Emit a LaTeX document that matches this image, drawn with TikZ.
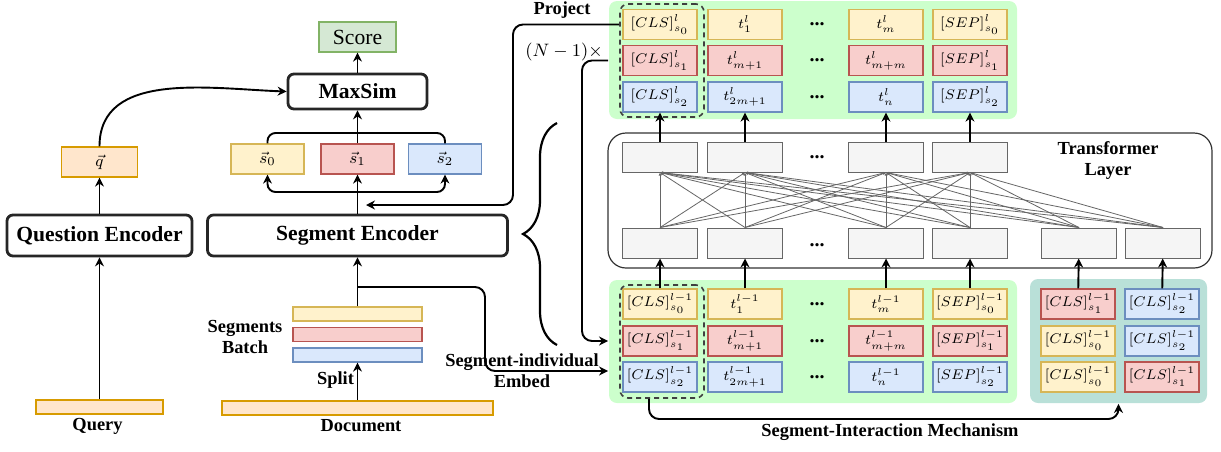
\documentclass[tikz,border=0pt]{standalone}
\usepackage[no-math]{fontspec}
\setmainfont{Liberation Serif}
\usetikzlibrary{arrows.meta,decorations.pathreplacing}

\definecolor{ylwF}{HTML}{FFF2CC}
\definecolor{ylwD}{HTML}{D6B656}
\definecolor{redF}{HTML}{F8CECC}
\definecolor{redD}{HTML}{B85450}
\definecolor{bluF}{HTML}{DAE8FC}
\definecolor{bluD}{HTML}{6C8EBF}
\definecolor{orgF}{HTML}{FFE6CC}
\definecolor{orgD}{HTML}{D79B00}
\definecolor{grnF}{HTML}{D5E8D4}
\definecolor{grnD}{HTML}{82B366}
\definecolor{panelG}{HTML}{CCFFCC}
\definecolor{panelT}{HTML}{B9E0D8}
\definecolor{cellF}{HTML}{F5F5F5}
\definecolor{cellD}{HTML}{666666}

\tikzset{
  enc/.style={draw=black!85, line width=1.4pt, rounded corners=3pt, minimum height=20.5pt, inner sep=0pt, font=\fontsize{10.8}{13}\selectfont\bfseries},
  lab/.style={font=\fontsize{9.2}{10.5}\selectfont\bfseries, inner sep=0pt, align=center},
  tok/.style={minimum width=37pt, minimum height=15pt, inner sep=0pt, line width=0.6pt, font=\fontsize{7.4}{8}\selectfont},
  ylw/.style={tok, fill=ylwF, draw=ylwD},
  rd/.style={tok, fill=redF, draw=redD},
  bl/.style={tok, fill=bluF, draw=bluD},
  bar/.style={minimum height=7pt, inner sep=0pt, line width=0.6pt},
  cell/.style={fill=cellF, draw=cellD, line width=0.5pt, minimum width=37.5pt, minimum height=15pt, inner sep=0pt},
  dots/.style={font=\fontsize{10}{12}\selectfont\bfseries, inner sep=0pt},
  panel/.style={rounded corners=4pt, inner sep=0pt},
  clsgrp/.style={draw=black!75, dash pattern=on 2.5pt off 2pt, line width=0.8pt, rounded corners=4pt, minimum width=42pt, minimum height=56.5pt},
}

\begin{document}
\begin{tikzpicture}[x=0.5pt, y=-0.5pt, >={Stealth[length=4.5pt,width=4.5pt]}, line width=0.95pt]
	\useasboundingbox (0,0) rectangle (1221,451);

	% question side
	\node[bar, fill=orgF, draw=orgD, minimum width=63.5pt] (qbar) at (99.5,407) {};
	\node[lab] (qlab) at (97.5,426) {Query};
	\node[enc, minimum width=92.5pt] (qenc) at (99.5,235.5) {Question Encoder};
	\node[tok, fill=orgF, draw=orgD, minimum width=38pt, font=\fontsize{8.5}{9}\selectfont] (qvec) at (99.5,162) {$\vec{q}$};
	\draw[->] (qbar) -- (qenc);
	\draw[->] (qenc) -- (qvec);

	% segment side
	\node[draw=grnD, fill=grnF, line width=0.6pt, minimum width=38.5pt, minimum height=15pt, inner sep=0pt, font=\fontsize{10.8}{13}\selectfont] (score) at (357.5,37) {Score};
	\node[enc, minimum width=69.5pt, minimum height=17.5pt] (maxsim) at (357.5,91.5) {MaxSim};
	\node[ylw, minimum width=36.5pt, font=\fontsize{8.5}{9}\selectfont] (s0) at (267.5,159) {$\vec{s}_0$};
	\node[rd, minimum width=36.5pt, font=\fontsize{8.5}{9}\selectfont] (s1) at (357.5,159) {$\vec{s}_1$};
	\node[bl, minimum width=36.5pt, font=\fontsize{8.5}{9}\selectfont] (s2) at (445,159) {$\vec{s}_2$};
	\node[enc, minimum width=150pt] (senc) at (357.5,235.5) {Segment Encoder};
	\node[bar, fill=ylwF, draw=ylwD, minimum width=64.5pt] (seg0) at (357.5,314) {};
	\node[bar, fill=redF, draw=redD, minimum width=64.5pt] (seg1) at (357.5,334.5) {};
	\node[bar, fill=bluF, draw=bluD, minimum width=64.5pt] (seg2) at (357.5,355) {};
	\node[bar, fill=orgF, draw=orgD, minimum width=135.5pt] (doc) at (357.5,408) {};
	\node[lab] (batchlab) at (245,337) {Segments\\Batch};
	\node[lab] (splitlab) at (335.5,380) {Split};
	\node[lab] (doclab) at (361,426) {Document};

	\draw[->] (doc) -- (seg2);
	\draw[->] (seg0) -- (senc);
	\draw[->] (senc) -- (s1);
	\coordinate (sfork) at (357.5,192);
	\draw[->, rounded corners=4pt] (sfork) -| (s0);
	\draw[->, rounded corners=4pt] (sfork) -| (s2);
	\coordinate (sjoin) at (357.5,133);
	\draw[rounded corners=4pt] (s0) |- (sjoin) -| (s2);
	\draw[->] (s1) -- (maxsim);
	\draw[->] (maxsim) -- (score);
	\draw[->] (qvec.north) to[out=90, in=178] (maxsim.west);

	% token panels
	\node[panel, fill=panelG, minimum width=204pt, minimum height=59pt] (tpanel) at (813,60) {};
	\node[panel, fill=panelG, minimum width=204pt, minimum height=61.5pt] (bpanel) at (813,341.5) {};
	\node[panel, fill=panelT, minimum width=88.5pt, minimum height=62pt] (cpanel) at (1118.5,341) {};

	\node[ylw] (t00) at (660,24.5) {$[CLS]^l_{s_0}$};
	\node[ylw] (t01) at (745,24.5) {$t^l_1$};
	\node[ylw] (t02) at (886,24.5) {$t^l_m$};
	\node[ylw] (t03) at (970,24.5) {$[SEP]^l_{s_0}$};
	\node[rd] (t10) at (660,60.5) {$[CLS]^l_{s_1}$};
	\node[rd] (t11) at (745,60.5) {$t^l_{m+1}$};
	\node[rd] (t12) at (886,60.5) {$t^l_{m+m}$};
	\node[rd] (t13) at (970,60.5) {$[SEP]^l_{s_1}$};
	\node[bl] (t20) at (660,97) {$[CLS]^l_{s_2}$};
	\node[bl] (t21) at (745,97) {$t^l_{2m+1}$};
	\node[bl] (t22) at (886,97) {$t^l_n$};
	\node[bl] (t23) at (970,97) {$[SEP]^l_{s_2}$};
	\foreach \y [count=\i] in {24.5,60.5,97} \node[dots] (tdots\i) at (817,\y) {...};

	\node[ylw] (b00) at (660,304) {$[CLS]^{l-1}_{s_0}$};
	\node[ylw] (b01) at (745,304) {$t^{l-1}_1$};
	\node[ylw] (b02) at (886,304) {$t^{l-1}_m$};
	\node[ylw] (b03) at (970,304) {$[SEP]^{l-1}_{s_0}$};
	\node[rd] (b10) at (660,341) {$[CLS]^{l-1}_{s_1}$};
	\node[rd] (b11) at (745,341) {$t^{l-1}_{m+1}$};
	\node[rd] (b12) at (886,341) {$t^{l-1}_{m+m}$};
	\node[rd] (b13) at (970,341) {$[SEP]^{l-1}_{s_1}$};
	\node[bl] (b20) at (660,377) {$[CLS]^{l-1}_{s_2}$};
	\node[bl] (b21) at (745,377) {$t^{l-1}_{2m+1}$};
	\node[bl] (b22) at (886,377) {$t^{l-1}_n$};
	\node[bl] (b23) at (970,377) {$[SEP]^{l-1}_{s_2}$};
	\foreach \y [count=\i] in {304,341,377} \node[dots] (bdots\i) at (817,\y) {...};

	\node[rd] (c00) at (1078,304) {$[CLS]^{l-1}_{s_1}$};
	\node[bl] (c01) at (1162,304) {$[CLS]^{l-1}_{s_2}$};
	\node[ylw] (c10) at (1078,341) {$[CLS]^{l-1}_{s_0}$};
	\node[bl] (c11) at (1162,341) {$[CLS]^{l-1}_{s_2}$};
	\node[ylw] (c20) at (1078,377) {$[CLS]^{l-1}_{s_0}$};
	\node[rd] (c21) at (1162,377) {$[CLS]^{l-1}_{s_1}$};

	\node[clsgrp] (tcls) at (662,60.5) {};
	\node[clsgrp] (bcls) at (662,341.5) {};

	% transformer layer
	\node[draw=black!80, rounded corners=9pt, line width=0.6pt, minimum width=302pt, minimum height=67.5pt] (tlayer) at (910,200.5) {};
	\foreach \x [count=\i] in {660,745,886,970} \node[cell] (up\i) at (\x,157) {};
	\foreach \x [count=\i] in {660,745,886,970,1079,1163} \node[cell] (dn\i) at (\x,243) {};
	\node[dots] (udots) at (817,157) {...};
	\node[dots] (ddots) at (817,245) {...};
	\node[lab] (tllab) at (1108,161) {Transformer\\Layer};
	\foreach \i in {1,...,6}
		\foreach \j in {1,...,4}
			\draw[cellD, line width=0.4pt, -{Latex[length=1.5pt,width=1.5pt]}] (dn\i.north) -- (up\j.south);

	\foreach \i/\n in {1/0,2/1,3/2,4/3} \draw[->] (up\i) -- (t2\n);
	\foreach \i/\n in {1/0,2/1,3/2,4/3} \draw[->] (b0\n) -- (dn\i);
	\draw[->] (c00) -- (dn5);
	\draw[->] (c01) -- (dn6);

	% loops between the blocks
	\coordinate (projturn) at (513,205);
	\coordinate (projend) at (366,205);
	\draw[->, rounded corners=5pt] (tcls.west |- t00) -| (projturn) -- (projend);
	\node[lab] (projlab) at (562,10) {Project};

	\coordinate (loopturn) at (582,341);
	\draw[->, rounded corners=5pt] (tpanel.west |- t10) -| (loopturn) -- (bpanel.west |- b10);
	\node[font=\fontsize{8.7}{10}\selectfont, inner sep=0pt] (looplab) at (564,52) {$(N-1)\times$};

	\coordinate (embfork) at (357.5,287);
	\coordinate (embturn) at (485,371);
	\draw[->, rounded corners=5pt] (embfork) -| (embturn) -- (bpanel.west |- embturn);
	\node[lab] (emblab) at (522,371) {Segment-individual\\Embed};

	\coordinate (simturn) at (890,419);
	\draw[->, rounded corners=5pt] ([xshift=-6.5pt]bcls.south) |- (simturn) -| (cpanel.south);
	\node[lab] (simlab) at (890,432) {Segment-Interaction Mechanism};

	\coordinate (bracelo) at (557,345);
	\coordinate (bracehi) at (557,123);
	\draw[line width=1.1pt, decorate, decoration={brace, amplitude=17pt}] (bracelo) -- (bracehi);
\end{tikzpicture}
\end{document}
